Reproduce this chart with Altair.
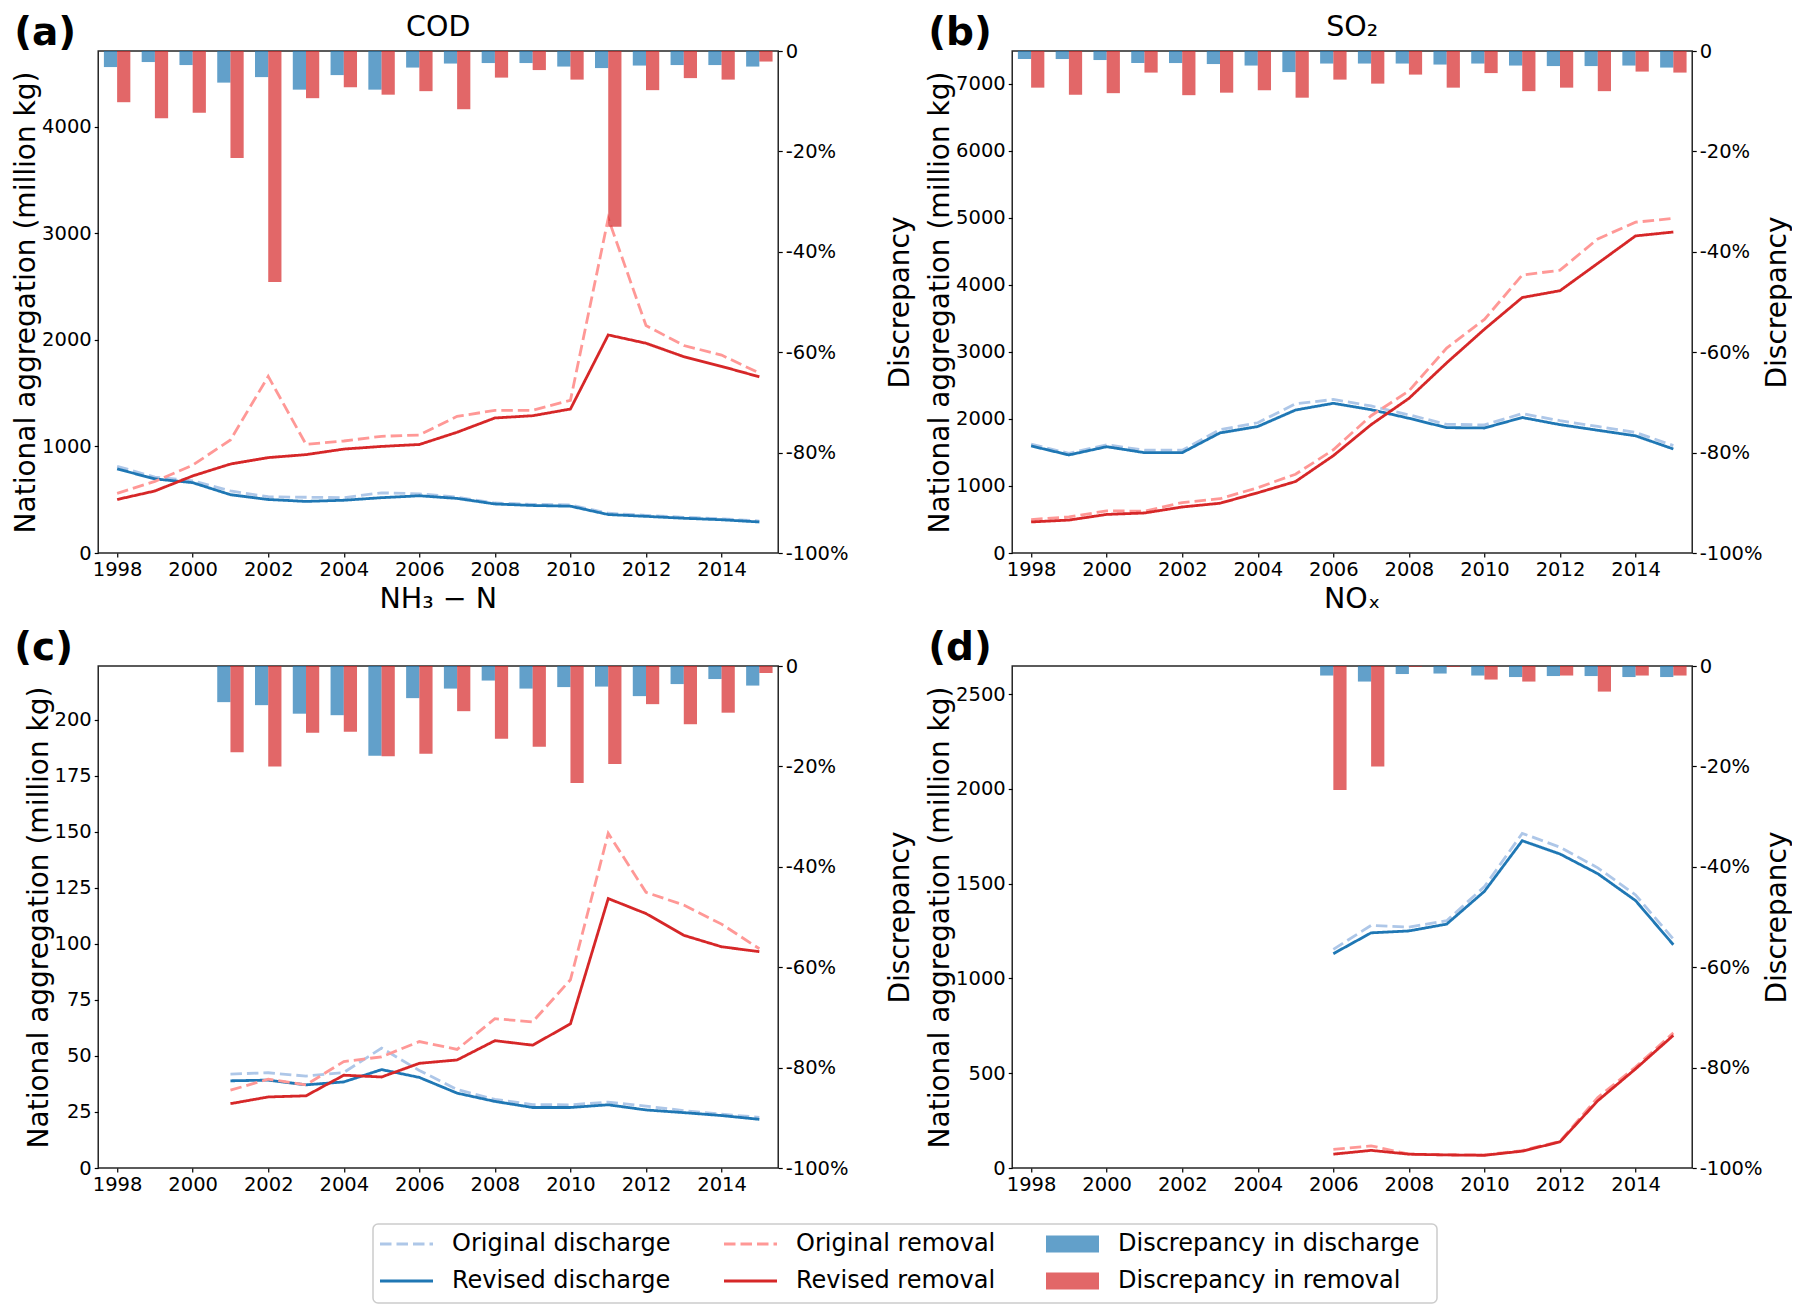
import altair as alt
import pandas as pd

# ---------------- data ----------------
YEARS = list(range(1998, 2016))
YEARS_NH3 = list(range(2001, 2016))
YEARS_NOX = list(range(2006, 2016))

COD_ORIG_DIS = [814, 712, 677, 582, 528, 523, 519, 565, 555, 524, 469, 456, 452, 373, 353, 335, 321, 300]
COD_REV_DIS = [789, 695, 660, 547, 502, 484, 495, 519, 537, 512, 460, 446, 439, 361, 344, 326, 312, 291]
COD_ORIG_REM = [559, 672, 824, 1061, 1657, 1019, 1051, 1095, 1107, 1282, 1338, 1339, 1433, 3140, 2134, 1947, 1857, 1688]
COD_REV_REM = [502, 582, 723, 835, 895, 923, 975, 1000, 1018, 1133, 1267, 1288, 1351, 2046, 1968, 1842, 1751, 1653]
COD_DISC_DIS = [-3.2, -2.2, -2.8, -6.3, -5.2, -7.7, -4.8, -7.7, -3.3, -2.5, -2.4, -2.4, -3.1, -3.4, -2.9, -2.8, -2.8, -3.1]
COD_DISC_REM = [-10.2, -13.4, -12.3, -21.3, -46.0, -9.4, -7.2, -8.7, -8.0, -11.6, -5.3, -3.8, -5.7, -35.0, -7.8, -5.4, -5.7, -2.1]

SO2_ORIG_DIS = [1622, 1486, 1614, 1533, 1533, 1839, 1942, 2225, 2289, 2192, 2060, 1919, 1910, 2078, 1973, 1887, 1797, 1602]
SO2_REV_DIS = [1596, 1462, 1585, 1496, 1496, 1791, 1886, 2132, 2232, 2137, 2009, 1869, 1864, 2020, 1914, 1830, 1747, 1551]
SO2_ORIG_REM = [499, 538, 628, 624, 752, 809, 974, 1175, 1539, 2047, 2416, 3055, 3483, 4144, 4217, 4684, 4932, 4990]
SO2_REV_REM = [463, 491, 575, 597, 686, 742, 898, 1066, 1451, 1914, 2305, 2835, 3337, 3809, 3911, 4319, 4728, 4786]
SO2_DISC_DIS = [-1.6, -1.6, -1.8, -2.4, -2.4, -2.6, -2.9, -4.2, -2.5, -2.5, -2.5, -2.7, -2.5, -2.9, -3.0, -3.0, -2.9, -3.3]
SO2_DISC_REM = [-7.3, -8.7, -8.4, -4.3, -8.8, -8.3, -7.8, -9.3, -5.7, -6.5, -4.7, -7.3, -4.4, -8.0, -7.3, -8.0, -4.1, -4.3]

NH3_ORIG_DIS = [41.9, 42.5, 41.0, 42.6, 53.5, 43.5, 35.0, 30.6, 28.3, 28.2, 29.4, 27.6, 25.6, 24.0, 22.6]
NH3_REV_DIS = [38.9, 39.2, 37.1, 38.4, 43.9, 40.4, 33.4, 29.7, 27.0, 27.0, 28.2, 25.9, 24.7, 23.4, 21.7]
NH3_ORIG_REM = [34.7, 39.6, 37.1, 47.5, 49.6, 56.4, 52.9, 66.6, 65.2, 84.0, 149.3, 123.0, 117.3, 108.8, 97.8]
NH3_REV_REM = [28.7, 31.7, 32.2, 41.4, 40.6, 46.7, 48.2, 56.8, 54.8, 64.3, 120.2, 113.5, 103.8, 98.7, 96.5]
NH3_DISC_DIS = [-7.2, -7.8, -9.5, -9.8, -17.9, -6.4, -4.5, -2.9, -4.5, -4.2, -4.1, -6.0, -3.6, -2.6, -3.9]
NH3_DISC_REM = [-17.2, -20.0, -13.3, -13.1, -18.0, -17.5, -9.0, -14.5, -16.1, -23.3, -19.5, -7.6, -11.6, -9.3, -1.4]

NOX_ORIG_DIS = [1154, 1280, 1271, 1305, 1485, 1766, 1693, 1584, 1441, 1208]
NOX_REV_DIS = [1131, 1241, 1251, 1287, 1460, 1727, 1657, 1553, 1411, 1178]
NOX_ORIG_REM = [98, 117, 73, 69, 69, 92, 141, 372, 533, 713]
NOX_REV_REM = [73, 93, 73, 69, 67, 89, 138, 355, 523, 700]
NOX_DISC_DIS = [-1.9, -3.1, -1.6, -1.5, -1.9, -2.2, -2.0, -2.0, -2.2, -2.2]
NOX_DISC_REM = [-24.7, -20.0, -0.15, -0.15, -2.7, -3.1, -1.9, -5.1, -1.9, -1.9]

SERIES = ["Original discharge", "Revised discharge", "Original removal", "Revised removal",
          "Discrepancy in discharge", "Discrepancy in removal"]
X_TICKS = list(range(1998, 2015, 2))
RIGHT_TICKS = [0, -20, -40, -60, -80, -100]

# ---------------- styles ----------------
FONT = "DejaVu Sans"
COLORS = ["#aec7e8", "#1f77b4", "#ff9896", "#d62728", "#1f77b4", "#d62728"]
DASHES = [[11.5, 5], [1, 0], [11.5, 5], [1, 0]]
W, H = 680, 502
LEG_W, LEG_H, LEG_SHIFT = 1064, 79, 80

color_scale = alt.Scale(domain=SERIES, range=COLORS)
dash_scale = alt.Scale(domain=SERIES[:4], range=DASHES)


def x_axis():
    return alt.Axis(values=X_TICKS, format="d", title=None)


def panel(years, od, rd, orr, rr, dd, dr, step, title, letter, title_offset, right_pad):
    rows = []
    for name, vals in zip(SERIES[:4], [od, rd, orr, rr]):
        for yr, v in zip(years, vals):
            rows.append({"year": yr, "value": v, "series": name})
    lines_df = pd.DataFrame(rows)
    brows = []
    for name, vals in zip(SERIES[4:], [dd, dr]):
        for yr, v in zip(years, vals):
            brows.append({"year": yr, "value": v, "series": name})
    bars_df = pd.DataFrame(brows)

    ymax = 1.5 * max(max(od), max(rd), max(orr), max(rr))
    left_ticks = list(range(0, int(ymax) + 1, step))
    xscale = alt.Scale(domain=[1997.5, 2015.5], nice=False, zero=False)

    lines = alt.Chart(lines_df).mark_line(strokeWidth=2.8).encode(
        x=alt.X("year:Q", scale=xscale, axis=x_axis()),
        y=alt.Y("value:Q", scale=alt.Scale(domain=[0, ymax], nice=False, zero=True),
                axis=alt.Axis(orient="left", values=left_ticks, format="d",
                              title="National aggregation (million kg)", titlePadding=1)),
        color=alt.Color("series:N", scale=color_scale, legend=None),
        strokeDash=alt.StrokeDash("series:N", scale=dash_scale, legend=None),
    )

    bars = alt.Chart(bars_df).transform_calculate(
        x0="datum.series == 'Discrepancy in discharge' ? datum.year - 0.35 : datum.year",
        x1="datum.series == 'Discrepancy in discharge' ? datum.year : datum.year + 0.35",
        zero="0",
    ).mark_bar(opacity=0.7).encode(
        x=alt.X("x0:Q", scale=xscale, axis=x_axis()),
        x2="x1:Q",
        y=alt.Y("value:Q", scale=alt.Scale(domain=[-100, 0], nice=False, zero=False),
                axis=alt.Axis(orient="right", values=RIGHT_TICKS,
                              labelExpr="datum.value == 0 ? '0' : datum.value + '%'",
                              title="Discrepancy", titleAngle=270, titleBaseline="top",
                              titlePadding=right_pad)),
        y2="zero:Q",
        color=alt.Color("series:N", scale=color_scale, legend=None),
    )

    letter_layer = alt.Chart(pd.DataFrame({"t": [letter]})).mark_text(
        fontSize=39, fontWeight="bold", align="left", baseline="alphabetic",
        x=-84, y=-6, color="black"
    ).encode(text="t:N")

    title_layer = alt.Chart(pd.DataFrame({"t": [title]})).mark_text(
        fontSize=28.5, align="center", baseline="alphabetic",
        x=W / 2, y=-title_offset, color="black"
    ).encode(text="t:N")

    return alt.layer(lines, bars, letter_layer, title_layer).resolve_scale(
        y="independent").properties(width=W, height=H)


pa = panel(YEARS, COD_ORIG_DIS, COD_REV_DIS, COD_ORIG_REM, COD_REV_REM, COD_DISC_DIS, COD_DISC_REM,
           1000, "COD", "(a)", 15, 38)
pb = panel(YEARS, SO2_ORIG_DIS, SO2_REV_DIS, SO2_ORIG_REM, SO2_REV_REM, SO2_DISC_DIS, SO2_DISC_REM,
           1000, "SO₂", "(b)", 15, 1)
pc = panel(YEARS_NH3, NH3_ORIG_DIS, NH3_REV_DIS, NH3_ORIG_REM, NH3_REV_REM, NH3_DISC_DIS, NH3_DISC_REM,
           25, "NH₃ − N", "(c)", 58, 38)
pd_ = panel(YEARS_NOX, NOX_ORIG_DIS, NOX_REV_DIS, NOX_ORIG_REM, NOX_REV_REM, NOX_DISC_DIS, NOX_DISC_REM,
            500, "NOₓ", "(d)", 58, 1)

# ---------------- legend ----------------
leg_df = pd.DataFrame({"series": SERIES,
                       "col": [i // 2 for i in range(len(SERIES))],
                       "row": [i % 2 for i in range(len(SERIES))]})
lx = alt.X("col:Q", scale=alt.Scale(domain=[0, 1, 2], range=[7, 351, 673]), axis=None)
ly = alt.Y("row:Q", scale=alt.Scale(domain=[0, 1], range=[20, 57]), axis=None)

leg_box = alt.Chart(pd.DataFrame({"a": [0]})).mark_rect(
    fill="white", stroke="#cccccc", strokeWidth=1.5, cornerRadius=5
).encode(x=alt.value(0), x2=alt.value(LEG_W), y=alt.value(0), y2=alt.value(LEG_H))
leg_lines = alt.Chart(leg_df).transform_filter("datum.col < 2").mark_point(
    shape="stroke", size=2809, strokeWidth=3, filled=False, opacity=1, xOffset=26.5
).encode(x=lx, y=ly,
         color=alt.Color("series:N", scale=color_scale, legend=None),
         strokeDash=alt.StrokeDash("series:N", scale=dash_scale, legend=None))
leg_bars = alt.Chart(leg_df).transform_filter("datum.col == 2").mark_point(
    shape="M-1,-0.32H1V0.32H-1Z", size=2809, filled=True, opacity=0.7, xOffset=26.5
).encode(x=lx, y=ly, color=alt.Color("series:N", scale=color_scale, legend=None))
leg_text = alt.Chart(leg_df).mark_text(
    align="left", baseline="middle", dx=72, fontSize=24, color="black"
).encode(x=lx, y=ly, text="series:N")

legend = alt.layer(leg_box, leg_lines, leg_bars, leg_text).properties(
    width=LEG_W + LEG_SHIFT, height=LEG_H,
    view=alt.ViewBackground(strokeOpacity=0),
)

grid = alt.vconcat(alt.hconcat(pa, pb, spacing=10), alt.hconcat(pc, pd_, spacing=10), spacing=4)
chart = alt.vconcat(grid, legend, spacing=28, center=True).properties(
    padding={"top": 4, "left": 3, "right": 0, "bottom": 0}
).configure(
    font=FONT
).configure_axis(
    grid=False, domain=False, labelFontSize=19.5, titleFontSize=28, titleFontWeight="normal",
    labelColor="black", titleColor="black", tickColor="black", tickSize=4, tickWidth=1.2,
    labelPadding=3, labelFlush=False, labelOverlap=False,
).configure_view(stroke="#262626", strokeWidth=1.5)

chart.save("out.html", embed_options={"renderer": "svg", "actions": False})
